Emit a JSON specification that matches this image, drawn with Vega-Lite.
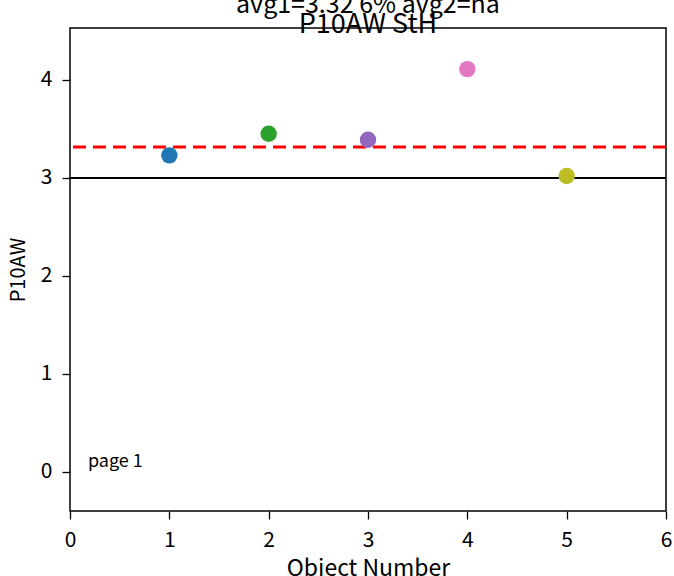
{
  "$schema": "https://vega.github.io/schema/vega-lite/v6.json",
  "width": 596,
  "height": 483,
  "autosize": {"type": "none"},
  "padding": {"left": 70, "top": 28, "right": 8, "bottom": 65},
  "background": "white",
  "config": {
    "font": "Noto Sans CJK JP",
    "view": {"stroke": "black", "strokeWidth": 1.5},
    "axis": {
      "grid": false,
      "domain": false,
      "tickColor": "black",
      "tickWidth": 1.3,
      "tickSize": 8,
      "labelFlush": false,
      "labelOverlap": false,
      "labelColor": "black",
      "labelFontSize": 21,
      "labelFont": "Noto Sans CJK JP",
      "titleColor": "black",
      "titleFontWeight": "normal",
      "titleFont": "Noto Sans CJK JP",
      "format": "d"
    }
  },
  "title": {
    "text": "avg1=3.32 6% avg2=na",
    "subtitle": "P10AW StH",
    "anchor": "middle",
    "fontSize": 25,
    "fontWeight": "normal",
    "subtitleFontSize": 27,
    "color": "black",
    "subtitleColor": "black",
    "font": "Noto Sans CJK JP",
    "subtitleFont": "Noto Sans CJK JP",
    "subtitlePadding": -6,
    "offset": -10
  },
  "datasets": {
    "pts": [
      {"obj": 1, "val": 3.23, "c": "1"},
      {"obj": 2, "val": 3.45, "c": "2"},
      {"obj": 3, "val": 3.39, "c": "3"},
      {"obj": 4, "val": 4.11, "c": "4"},
      {"obj": 5, "val": 3.02, "c": "5"}
    ]
  },
  "layer": [
    {
      "data": {"values": [{"y": 3}]},
      "mark": {"type": "rule", "color": "black", "strokeWidth": 2},
      "encoding": {"y": {"field": "y", "type": "quantitative", "scale": {"domain": [-0.4, 4.53], "nice": false}}}
    },
    {
      "data": {"values": [{"y": 3.315}]},
      "mark": {"type": "rule", "color": "red", "strokeWidth": 3, "strokeDash": [13, 7]},
      "encoding": {"y": {"field": "y", "type": "quantitative"}}
    },
    {
      "data": {"name": "pts"},
      "mark": {"type": "circle", "size": 270, "opacity": 1},
      "encoding": {
        "x": {
          "field": "obj", "type": "quantitative",
          "scale": {"domain": [0, 6], "nice": false},
          "axis": {"values": [0, 1, 2, 3, 4, 5, 6], "title": "Object Number", "titleFontSize": 23, "labelPadding": 10, "titlePadding": 7}
        },
        "y": {
          "field": "val", "type": "quantitative",
          "scale": {"domain": [-0.4, 4.53], "nice": false},
          "axis": {"values": [0, 1, 2, 3, 4], "title": "P10AW", "titleFontSize": 20, "labelPadding": 10, "titlePadding": 12}
        },
        "color": {
          "field": "c", "type": "nominal",
          "scale": {"domain": ["1", "2", "3", "4", "5"], "range": ["#1f77b4", "#2ca02c", "#9467bd", "#e377c2", "#bcbd22"]},
          "legend": null
        }
      }
    },
    {
      "data": {"values": [{"x": 0.18, "y": 0.1, "t": "page 1"}]},
      "mark": {"type": "text", "align": "left", "baseline": "middle", "fontSize": 18, "color": "black", "font": "Noto Sans CJK JP"},
      "encoding": {
        "x": {"field": "x", "type": "quantitative"},
        "y": {"field": "y", "type": "quantitative"},
        "text": {"field": "t"}
      }
    }
  ]
}
